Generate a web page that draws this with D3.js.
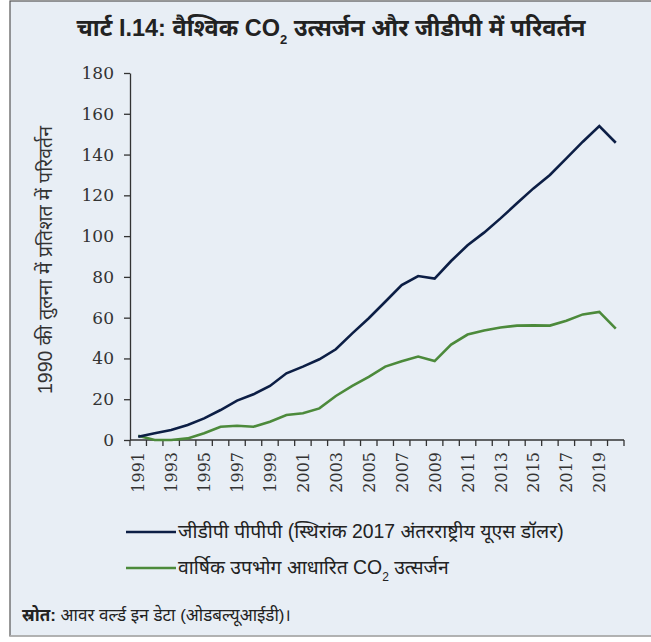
<!DOCTYPE html>
<html><head><meta charset="utf-8">
<script src="https://cdn.jsdelivr.net/npm/d3@7"></script>
<style>
html,body{margin:0;padding:0;background:#fff;}
svg{display:block;}
</style></head>
<body>
<svg id="chart" width="651" height="642"></svg>
<script>
const years = d3.range(1991, 2021).map(String);
const gdpValues = [1.6,3.3,4.9,7.4,10.6,14.7,19.3,22.4,26.5,32.7,36.0,39.6,44.5,52.3,59.7,67.8,76.0,80.4,79.2,87.8,95.5,101.7,108.7,116.1,123.4,130.0,138.1,146.3,154.0,145.8];
const co2Values = [2.1,0.0,0.0,0.8,3.3,6.5,7.0,6.5,9.0,12.3,13.1,15.5,21.6,26.5,31.0,36.0,38.6,40.9,38.7,46.8,51.7,53.7,55.2,56.1,56.2,56.1,58.5,61.6,62.8,54.6];
const yTicks = [0,20,40,60,80,100,120,140,160,180];
const xTickLabels = years.filter((d,i)=>i%2===0);
const titleText = "चार्ट I.14: वैश्विक CO";
const titleRest = " उत्सर्जन और जीडीपी में परिवर्तन";
const yLabel = "1990 की तुलना में प्रतिशत में परिवर्तन";
const legendLabels = ["जीडीपी पीपीपी (स्थिरांक 2017 अंतरराष्ट्रीय यूएस डॉलर)", "वार्षिक उपभोग आधारित CO"];
const sourceBold = "स्रोत:";
const sourceText = " आवर वर्ल्ड इन डेटा (ओडबल्यूआईडी)।";

const svg = d3.select("#chart");
const sans = "'Liberation Sans Narrow','Liberation Sans','Noto Sans',sans-serif";
const sans2 = "'Liberation Sans','Noto Sans',sans-serif";
const serif = "'DejaVu Serif','Liberation Serif',serif";

// frame
svg.append("rect").attr("x",10).attr("y",1).attr("width",660).attr("height",635)
  .attr("fill","#e8eef5").attr("stroke","#555").attr("stroke-width",1.2);
svg.append("line").attr("x1",10).attr("x2",651).attr("y1",636).attr("y2",636).attr("stroke","#bbb").attr("stroke-width",1.5);

// title
const t = svg.append("text").attr("x",331).attr("y",36).attr("text-anchor","middle")
  .attr("font-family",sans).attr("font-weight","bold").attr("font-size",23.5).attr("fill","#222");
t.append("tspan").text(titleText);
t.append("tspan").attr("font-size",13).attr("dy",8).text("2");
t.append("tspan").attr("dy",-8).text(titleRest);

const x = d3.scaleBand().domain(years).range([130,624]);
const y = d3.scaleLinear().domain([0,180]).range([440,73]);

// y axis
const ya = svg.append("g").attr("transform","translate(130,0)")
  .call(d3.axisLeft(y).tickValues(yTicks).tickSize(6).tickSizeOuter(0).tickPadding(10));
ya.selectAll("text").attr("font-family",serif).attr("font-size",17).attr("fill","#333");
ya.selectAll("line,path").attr("stroke","#333").attr("stroke-width",1.3);

// x axis: ticks between categories
const xa = svg.append("g").attr("transform","translate(0,440)");
xa.append("line").attr("x1",130).attr("x2",624).attr("stroke","#333").attr("stroke-width",1.3);
xa.selectAll("line.tk").data(years.concat(["end"])).join("line").attr("class","tk")
  .attr("x1",(d,i)=>130+i*x.bandwidth()).attr("x2",(d,i)=>130+i*x.bandwidth())
  .attr("y1",0).attr("y2",6).attr("stroke","#333").attr("stroke-width",1.3);
xa.selectAll("text").data(xTickLabels).join("text")
  .attr("transform",d=>`translate(${x(d)+x.bandwidth()/2+6},12) rotate(-90)`)
  .attr("text-anchor","end").attr("font-family",serif).attr("font-size",16).attr("fill","#333")
  .text(d=>d);

// y label
svg.append("text").attr("transform","translate(52,260) rotate(-90)").attr("text-anchor","middle")
  .attr("font-family",sans2).attr("font-size",19.5).attr("fill","#333").text(yLabel);

// lines
const line = d3.line().x((d,i)=>x(years[i])+x.bandwidth()/2).y(d=>y(d));
svg.append("path").datum(co2Values).attr("d",line).attr("fill","none").attr("stroke","#4c8a3b").attr("stroke-width",2.6);
svg.append("path").datum(gdpValues).attr("d",line).attr("fill","none").attr("stroke","#0c1e45").attr("stroke-width",2.6);

// legend
const lg = svg.append("g");
const lcol = ["#0c1e45","#4c8a3b"];
[532,568].forEach((ly,i)=>{
  lg.append("line").attr("x1",126).attr("x2",176).attr("y1",ly).attr("y2",ly).attr("stroke",lcol[i]).attr("stroke-width",2.6);
  const tx = lg.append("text").attr("x",178).attr("y",ly+6).attr("font-family",sans2)
    .attr("font-size",19.4).attr("fill","#222");
  tx.append("tspan").text(legendLabels[i]);
  if(i===1){
    tx.append("tspan").attr("font-size",12).attr("dy",7).text("2");
    tx.append("tspan").attr("dy",-7).text(" उत्सर्जन");
  }
});

// source
const s = svg.append("text").attr("x",22).attr("y",621).attr("font-family",sans2)
  .attr("font-size",17).attr("fill","#222");
s.append("tspan").attr("font-weight","bold").text(sourceBold);
s.append("tspan").text(sourceText);
</script>
</body></html>
